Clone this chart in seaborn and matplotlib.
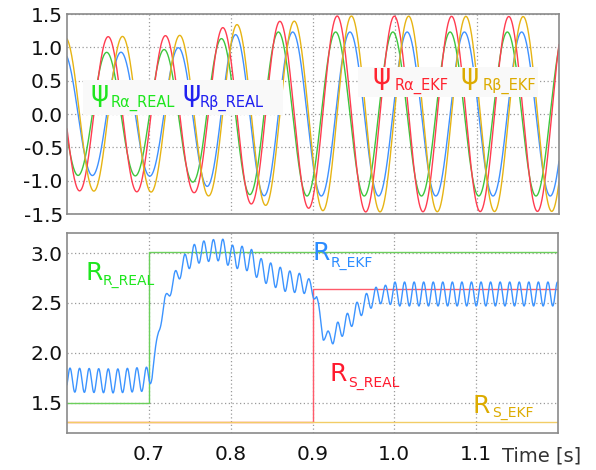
import numpy as np
import pandas as pd
import matplotlib
matplotlib.use("Agg")
import matplotlib.pyplot as plt
from matplotlib.patches import Rectangle
import seaborn as sns

# ---------------- rotor flux, top panel ----------------
flux_period = 0.0698          # s
flux_peak_real = 0.6484       # s, a positive peak of psi_R_alpha (real)
flux_peak_ekf = 0.6502        # s, a positive peak of psi_R_alpha (EKF)

amp_real_t = [0.60, 0.70, 0.72, 0.753, 0.772, 0.788, 0.805, 0.824, 0.845, 1.20]
amp_real = [0.92, 0.93, 0.97, 1.02, 1.09, 1.13, 1.19, 1.21, 1.23, 1.23]

amp_ekf_t = [0.60, 0.70, 0.74, 0.755, 0.773, 0.788, 0.806, 0.826, 0.858, 0.875,
             0.893, 0.912, 0.93, 1.20]
amp_ekf = [1.15, 1.17, 1.18, 1.18, 1.23, 1.29, 1.34, 1.35, 1.39, 1.39,
           1.41, 1.45, 1.47, 1.46]

# ---------------- resistances, bottom panel ----------------
rr_real_t = [0.60, 0.70, 1.20]
rr_real = [1.50, 3.01, 3.01]
rs_real_t = [0.60, 0.90, 1.20]
rs_real = [1.31, 2.64, 2.64]
rs_ekf_t = [0.60, 1.20]
rs_ekf = [1.31, 1.31]

rr_ekf_t = [0.600, 0.660, 0.700, 0.704, 0.712, 0.7195, 0.731, 0.742, 0.754, 0.766,
            0.777, 0.789, 0.801, 0.813, 0.825, 0.836, 0.847, 0.858, 0.870, 0.885,
            0.898, 0.905, 0.913, 0.920, 0.935, 0.946, 0.957, 0.968, 0.980, 0.992,
            1.200]
rr_ekf_mean = [1.73, 1.72, 1.74, 1.80, 2.22, 2.51, 2.73, 2.88, 2.98, 3.015,
               3.025, 3.035, 2.965, 2.955, 2.925, 2.835, 2.795, 2.755, 2.715, 2.70,
               2.66, 2.55, 2.18, 2.15, 2.245, 2.335, 2.445, 2.52, 2.58, 2.59,
               2.59]
ripple_t = [0.600, 0.700, 0.705, 0.720, 0.730, 0.750, 0.770, 0.800, 0.830, 0.870,
            0.890, 0.905, 0.915, 0.925, 0.990, 1.000, 1.200]
ripple_amp = [0.12, 0.12, 0.04, 0.05, 0.07, 0.10, 0.105, 0.115, 0.115, 0.11,
              0.09, 0.05, 0.05, 0.09, 0.09, 0.12, 0.12]
ripple_period = 0.01168
ripple_peak = 0.6037

x_ticks = [0.7, 0.8, 0.9, 1.0, 1.1]
top_yticks = [-1.5, -1.0, -0.5, 0.0, 0.5, 1.0, 1.5]
bot_yticks = [1.5, 2.0, 2.5, 3.0]

# ---------------- signals ----------------
t = np.linspace(0.6, 1.2, 4001)
w = 2 * np.pi / flux_period
a_real = np.interp(t, amp_real_t, amp_real)
a_ekf = np.interp(t, amp_ekf_t, amp_ekf)
flux = pd.DataFrame({
    "t": t,
    "psi_a_real": a_real * np.cos(w * (t - flux_peak_real)),
    "psi_b_real": a_real * np.sin(w * (t - flux_peak_real)),
    "psi_a_ekf": a_ekf * np.cos(w * (t - flux_peak_ekf)),
    "psi_b_ekf": a_ekf * np.sin(w * (t - flux_peak_ekf)),
})
rr_est = (np.interp(t, rr_ekf_t, rr_ekf_mean)
          + np.interp(t, ripple_t, ripple_amp)
          * np.cos(2 * np.pi * (t - ripple_peak) / ripple_period))

# ---------------- figure ----------------
sns.set_theme(style="white")
plt.rcParams["font.family"] = ["DejaVu Sans"]
plt.rcParams["axes.unicode_minus"] = False

W, H = 596, 470
fig = plt.figure(figsize=(W / 100, H / 100), dpi=100)
fig.patch.set_facecolor("white")
ax_top = fig.add_axes([67 / W, 1 - 214 / H, 492 / W, 200 / H])
ax_bot = fig.add_axes([67 / W, 1 - 433 / H, 491 / W, 200 / H])

line_kw = dict(estimator=None, errorbar=None, sort=False, linewidth=1.0)
sns.lineplot(data=flux, x="t", y="psi_a_real", ax=ax_top, color="#3ec63e", **line_kw)
sns.lineplot(data=flux, x="t", y="psi_b_real", ax=ax_top, color="#3f91ff", **line_kw)
sns.lineplot(data=flux, x="t", y="psi_a_ekf", ax=ax_top, color="#ff3c50", **line_kw)
sns.lineplot(data=flux, x="t", y="psi_b_ekf", ax=ax_top, color="#e6b414", **line_kw)

sns.lineplot(x=rr_real_t, y=rr_real, ax=ax_bot, color="#6ccf5c",
             drawstyle="steps-post", **line_kw)
sns.lineplot(x=rs_real_t, y=rs_real, ax=ax_bot, color="#ff5a6a",
             drawstyle="steps-post", **line_kw)
sns.lineplot(x=rs_ekf_t, y=rs_ekf, ax=ax_bot, color="#f2cd66", **line_kw)
sns.lineplot(x=t, y=rr_est, ax=ax_bot, color="#3c94ff", **line_kw)

for ax in (ax_top, ax_bot):
    ax.set_xlim(0.6, 1.2)
    ax.set_xticks(x_ticks)
    ax.set_xlabel("")
    ax.set_ylabel("")
    ax.set_facecolor("white")
    ax.grid(True, color="#9a9a9a", linestyle=(0, (1, 2)), linewidth=0.9)
    ax.set_axisbelow(True)
    for s in ax.spines.values():
        s.set_visible(True)
        s.set_color("#8a8a8a")
        s.set_linewidth(1.2)
    ax.tick_params(length=0, labelsize=14.5, labelcolor="#111111")
    ax.tick_params(axis="y", pad=3)
    ax.tick_params(axis="x", pad=8.5)

ax_top.set_ylim(-1.5, 1.5)
ax_top.set_yticks(top_yticks)
ax_top.set_yticklabels([f"{v:.1f}" for v in top_yticks])
ax_top.tick_params(axis="x", labelbottom=False)

ax_bot.set_ylim(1.2, 3.2)
ax_bot.set_yticks(bot_yticks)
ax_bot.set_yticklabels([f"{v:.1f}" for v in bot_yticks])
ax_bot.set_xticklabels([f"{v:.1f}" for v in x_ticks])


def fx(px):
    return px / W


def fy(py):
    return 1 - py / H


# label backgrounds in the flux panel
for (x0, y0, x1, y1) in [(83, 80, 283, 115), (358, 67, 538, 97)]:
    fig.add_artist(Rectangle((fx(x0), fy(y1)), (x1 - x0) / W, (y1 - y0) / H,
                             transform=fig.transFigure, facecolor="#f9f9f9",
                             edgecolor="none", zorder=2))

# (main symbol, x, baseline, subscript, x, baseline, colour)
psi_labels = [
    ("ψ", 91, 101, "Rα_REAL", 111, 106.7, "#1ee61e"),
    ("ψ", 183, 101, "Rβ_REAL", 200, 106.7, "#2020f0"),
    ("ψ", 373, 83.5, "Rα_EKF", 395, 89.5, "#ff2430"),
    ("ψ", 461, 83.5, "Rβ_EKF", 483, 89.5, "#dcab00"),
]
for main, mx, my, sub, sx, sy, col in psi_labels:
    fig.text(fx(mx), fy(my), main, fontsize=20, color=col, va="baseline",
             family=["DejaVu Sans"], zorder=3)
    fig.text(fx(sx), fy(sy), sub, fontsize=10.5, color=col, va="baseline", zorder=3)

r_labels = [
    ("R", 85, 280, "R_REAL", 103, 285, "#1ee61e"),
    ("R", 312.7, 260, "R_EKF", 330.7, 266.7, "#2b8cff"),
    ("R", 330, 380.7, "S_REAL", 348.3, 386.7, "#ff1a2e"),
    ("R", 472.7, 412.7, "S_EKF", 491.7, 417.3, "#dcab00"),
]
for main, mx, my, sub, sx, sy, col in r_labels:
    fig.text(fx(mx), fy(my), main, fontsize=18, color=col, va="baseline", zorder=3)
    fig.text(fx(sx), fy(sy), sub, fontsize=10, color=col, va="baseline", zorder=3)

fig.text(fx(502), fy(461), "Time [s]", fontsize=14, color="#333333", va="baseline")

fig.savefig("out.png", dpi=100, facecolor="white")
